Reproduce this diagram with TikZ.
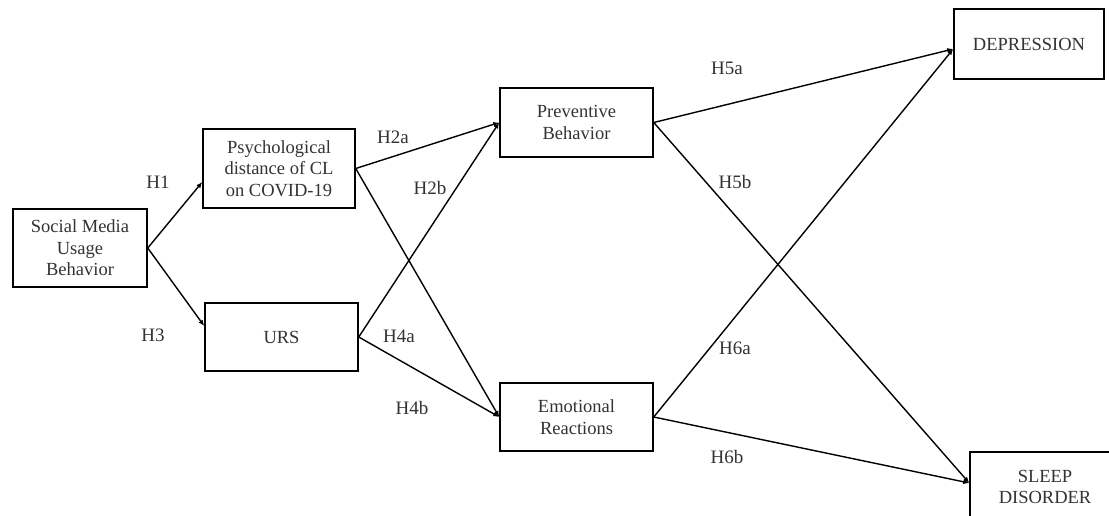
\documentclass[tikz,border=0pt]{standalone}
\usepackage{fontspec}
\setmainfont{Liberation Serif}
\usetikzlibrary{calc,arrows.meta}
\begin{document}
\begin{tikzpicture}[x=1pt,y=-1pt,
  box/.style={draw,line width=1.5pt,align=center,inner sep=0pt,
    font=\fontsize{18.5}{21.5}\selectfont,text=black!80},
  lbl/.style={font=\fontsize{19}{21}\selectfont,text=black!80},
  con/.style={line width=1.4pt,-{Latex[length=6pt,width=5pt]}}]
\useasboundingbox (0,0) rectangle (1109,515);
\clip (0,0) rectangle (1109,515);
\fill[white] (0,0) rectangle (1109,515);
\node[box,minimum width=134pt,minimum height=78pt] (sm) at (80,248) {Social Media\\Usage\\Behavior};
\node[box,minimum width=152pt,minimum height=79pt] (psy) at (279,168.5) {Psychological\\distance of CL\\on COVID-19};
\node[box,minimum width=153pt,minimum height=68pt] (urs) at (281.5,337) {URS};
\node[box,minimum width=153pt,minimum height=69pt] (prev) at (576.5,122.5) {Preventive\\Behavior};
\node[box,minimum width=153pt,minimum height=68pt] (emo) at (576.5,417) {Emotional\\Reactions};
\node[box,minimum width=150pt,minimum height=70pt] (dep) at (1029,44) {DEPRESSION};
\node[box,minimum width=150pt,minimum height=70pt] (slp) at (1045,487) {SLEEP\\DISORDER};
\coordinate (psyin) at ($(psy.west)+(0,13.5)$);
\coordinate (ursin) at ($(urs.west)+(0,-11)$);
\coordinate (depin) at ($(dep.west)+(0,5)$);
\coordinate (slpin) at ($(slp.west)+(0,-4)$);
\draw[con] (sm.east) -- (psyin);
\draw[con] (sm.east) -- (ursin);
\draw[con] (psy.east) -- (prev.west);
\draw[con] (psy.east) -- (emo.west);
\draw[con] (urs.east) -- (prev.west);
\draw[con] (urs.east) -- (emo.west);
\draw[con] (prev.east) -- (depin);
\draw[con] (prev.east) -- (slpin);
\draw[con] (emo.east) -- (depin);
\draw[con] (emo.east) -- (slpin);
\node[lbl] (h1) at (158,182) {H1};
\node[lbl] (h3) at (153,335) {H3};
\node[lbl] (h2a) at (393,137) {H2a};
\node[lbl] (h2b) at (430,188) {H2b};
\node[lbl] (h4a) at (399,336) {H4a};
\node[lbl] (h4b) at (412,408) {H4b};
\node[lbl] (h5a) at (727,68) {H5a};
\node[lbl] (h5b) at (735,182) {H5b};
\node[lbl] (h6a) at (735,348) {H6a};
\node[lbl] (h6b) at (727,457) {H6b};
\end{tikzpicture}
\end{document}
